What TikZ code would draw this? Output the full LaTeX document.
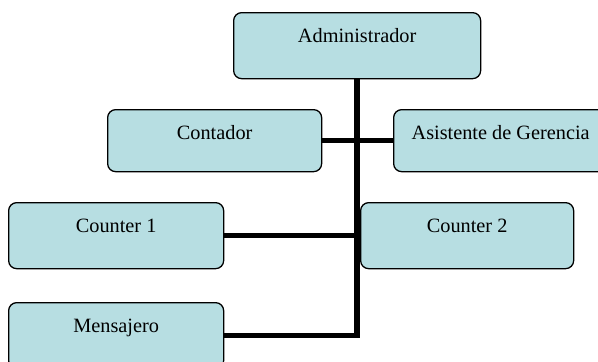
\documentclass[tikz,border=0pt]{standalone}
\usepackage{fontspec}
\setmainfont{Liberation Serif}
\definecolor{boxfill}{RGB}{183,222,226}
\tikzset{
  orgbox/.style={draw=black, line width=1.3pt, fill=boxfill, rounded corners=8pt,
    anchor=north west, inner xsep=0pt, inner ysep=0pt, text height=29.5pt,
    font=\fontsize{20.3}{23}\selectfont, align=center},
  conn/.style={draw=black, line width=5.5pt}
}
\begin{document}
\begin{tikzpicture}[x=1pt,y=-1pt]
\useasboundingbox (0,0) rectangle (598,362);
\node[orgbox, minimum width=247pt, text depth=36.5pt] (adm) at (233,12) {Administrador};
\node[orgbox, minimum width=214pt, text depth=32.5pt] (cont) at (107,109) {Contador};
\node[orgbox, minimum width=214pt, text depth=32.5pt] (asis) at (393,109) {Asistente de Gerencia};
\node[orgbox, minimum width=215pt, text depth=36.5pt] (c1) at (8,202) {Counter 1};
\node[orgbox, minimum width=213pt, text depth=36.5pt] (c2) at (360,202) {Counter 2};
\node[orgbox, minimum width=215pt, text depth=36.5pt] (mens) at (8,302) {Mensajero};
\draw[conn] (adm.south) |- (mens.east);
\draw[conn] (cont.east) -- (asis.west);
\draw[conn] (c1.east) -- (c1.east -| adm.south);
\end{tikzpicture}
\end{document}
